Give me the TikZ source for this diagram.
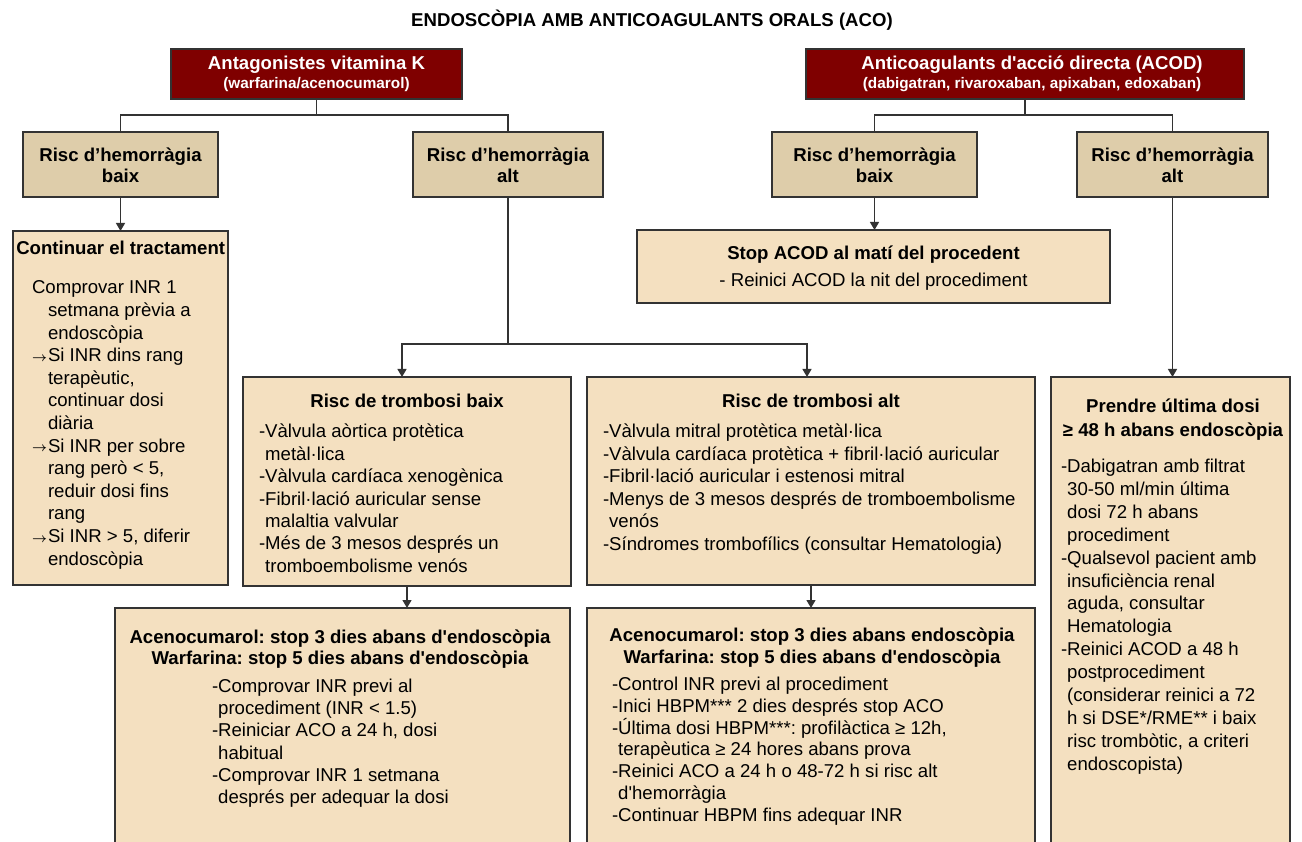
\documentclass[tikz,border=0pt]{standalone}
\usepackage{fontspec}
\setmainfont{Liberation Sans}
\usetikzlibrary{arrows.meta,calc}
\definecolor{dred}{HTML}{7F0000}
\definecolor{hbtan}{HTML}{DECDAA}
\definecolor{lightfill}{HTML}{F4E0C0}
\definecolor{edge}{HTML}{333333}
\frenchspacing
\newcommand\fsx[1]{\fontsize{18.6pt}{#1pt}\selectfont}
\newcommand\sq{\textquotesingle}
\newcommand\arw{\makebox[16pt][l]{\raisebox{0.5pt}{\resizebox{15pt}{!}{\boldmath$\rightarrow$}}}}
\tikzset{
  boxbase/.style={draw=edge, line width=1.4pt, inner sep=0pt, outer sep=0pt, anchor=north west},
  redbox/.style={boxbase, fill=dred},
  tanbox/.style={boxbase, fill=hbtan},
  lightbox/.style={boxbase, fill=lightfill},
  conn/.style={draw=edge, line width=1.3pt},
  arr/.style={conn, -{Triangle[length=8pt,width=9pt]}},
  txt/.style={inner sep=0pt, outer sep=0pt, text=black},
  ctxt/.style={txt, anchor=base},
  ltxt/.style={txt, anchor=base west},
}
\begin{document}
\begin{tikzpicture}[x=1pt,y=-1pt]
\useasboundingbox (0,0) rectangle (1302,842);
\fill[white] (0,0) rectangle (1302,842);
\clip (0,0) rectangle (1302,842);

% title
\node[ctxt] (title) at (652,27) {\fsx{22}\bfseries ENDOSCÒPIA AMB ANTICOAGULANTS ORALS (ACO)};

% boxes
\node[redbox, minimum width=291pt, minimum height=50pt] (vka) at (171,49) {};
\node[redbox, minimum width=438pt, minimum height=50pt] (acod) at (806,49) {};
\node[tanbox, minimum width=195pt, minimum height=65pt] (hb1) at (23,132) {};
\node[tanbox, minimum width=190pt, minimum height=65pt] (ha1) at (413,132) {};
\node[tanbox, minimum width=205pt, minimum height=65pt] (hb2) at (772,132) {};
\node[tanbox, minimum width=191pt, minimum height=65pt] (ha2) at (1077,132) {};
\node[lightbox, minimum width=215pt, minimum height=354pt] (cont) at (13,231) {};
\node[lightbox, minimum width=473pt, minimum height=73pt] (stop) at (637,230) {};
\node[lightbox, minimum width=328pt, minimum height=209pt] (tb) at (243,377) {};
\node[lightbox, minimum width=448pt, minimum height=208pt] (ta) at (587,377) {};
\node[lightbox, minimum width=239pt, minimum height=520pt] (rb) at (1051,377) {};
\node[lightbox, minimum width=455pt, minimum height=260pt] (bl) at (115,608) {};
\node[lightbox, minimum width=448pt, minimum height=260pt] (br) at (587,608) {};

% red box texts
\node[ctxt, text=white] (vkat1) at (316.5,70) {\fsx{22}\bfseries Antagonistes vitamina K};
\node[ctxt, text=white] (vkat2) at (316.5,89) {\fontsize{15.3pt}{18pt}\selectfont\bfseries (warfarina/acenocumarol)};
\node[ctxt, text=white] (acodt1) at (1032,70) {\fsx{22}\bfseries Anticoagulants d\sq acció directa (ACOD)};
\node[ctxt, text=white] (acodt2) at (1032,89) {\fontsize{15.3pt}{18pt}\selectfont\bfseries (dabigatran, rivaroxaban, apixaban, edoxaban)};

% hemorragia boxes
\node[ctxt] (hb1t) at (120.5,162) {\parbox[t]{300pt}{\centering\fsx{21}\bfseries Risc d’hemorràgia\\baix}};
\node[ctxt] (ha1t) at (508,162) {\parbox[t]{300pt}{\centering\fsx{21}\bfseries Risc d’hemorràgia\\alt}};
\node[ctxt] (hb2t) at (874.5,162) {\parbox[t]{300pt}{\centering\fsx{21}\bfseries Risc d’hemorràgia\\baix}};
\node[ctxt] (ha2t) at (1172.5,162) {\parbox[t]{300pt}{\centering\fsx{21}\bfseries Risc d’hemorràgia\\alt}};

% continuar
\node[ctxt] (contt) at (120.7,255) {\fsx{22}\bfseries Continuar el tractament};
\node[ltxt] (contl) at (32,294) {\parbox[t]{300pt}{\fsx{22.6}\raggedright
Comprovar INR 1\\
\hspace*{16pt}setmana prèvia a\\
\hspace*{16pt}endoscòpia\\
\arw Si INR dins rang\\
\hspace*{16pt}terapèutic,\\
\hspace*{16pt}continuar dosi\\
\hspace*{16pt}diària\\
\arw Si INR per sobre\\
\hspace*{16pt}rang però < 5,\\
\hspace*{16pt}reduir dosi fins\\
\hspace*{16pt}rang\\
\arw Si INR > 5, diferir\\
\hspace*{16pt}endoscòpia}};

% stop ACOD
\node[ctxt] (stopt) at (873.5,260) {\fsx{22}\bfseries Stop ACOD al matí del procedent};
\node[ctxt] (stopl) at (873.5,287) {\fsx{22}- Reinici ACOD la nit del procediment};

% trombosi baix
\node[ctxt] (tbt) at (407,407) {\fsx{22}\bfseries Risc de trombosi baix};
\node[ltxt] (tbl) at (259,437.5) {\parbox[t]{400pt}{\fsx{22.5}\raggedright
-Vàlvula aòrtica protètica\\
\phantom{-}metàl·lica\\
-Vàlvula cardíaca xenogènica\\
-Fibril·lació auricular sense\\
\phantom{-}malaltia valvular\\
-Més de 3 mesos després un\\
\phantom{-}tromboembolisme venós}};

% trombosi alt
\node[ctxt] (tat) at (811,407) {\fsx{22}\bfseries Risc de trombosi alt};
\node[ltxt] (tal) at (603,437.5) {\parbox[t]{500pt}{\fsx{22.6}\raggedright
-Vàlvula mitral protètica metàl·lica\\
-Vàlvula cardíaca protètica + fibril·lació auricular\\
-Fibril·lació auricular i estenosi mitral\\
-Menys de 3 mesos després de tromboembolisme\\
\phantom{-}venós\\
-Síndromes trombofílics (consultar Hematologia)}};

% right box
\node[ctxt] (rbt) at (1173,413) {\parbox[t]{300pt}{\centering\fsx{24}\bfseries Prendre última dosi\\≥ 48 h abans endoscòpia}};
\node[ltxt] (rbl) at (1061,472.5) {\parbox[t]{300pt}{\fsx{22.9}\raggedright
-Dabigatran amb filtrat\\
\phantom{-}30-50 ml/min última\\
\phantom{-}dosi 72 h abans\\
\phantom{-}procediment\\
-Qualsevol pacient amb\\
\phantom{-}insuficiència renal\\
\phantom{-}aguda, consultar\\
\phantom{-}Hematologia\\
-Reinici ACOD a 48 h\\
\phantom{-}postprocediment\\
\phantom{-}(considerar reinici a 72\\
\phantom{-}h si DSE*/RME** i baix\\
\phantom{-}risc trombòtic, a criteri\\
\phantom{-}endoscopista)}};

% bottom left
\node[ctxt] (blt) at (340,643) {\parbox[t]{500pt}{\centering\fsx{21.5}\bfseries Acenocumarol: stop 3 dies abans d\sq endoscòpia\\Warfarina: stop 5 dies abans d\sq endoscòpia}};
\node[ltxt] (bll) at (212,692.5) {\parbox[t]{400pt}{\fsx{22.2}\raggedright
-Comprovar INR previ al\\
\phantom{-}procediment (INR < 1.5)\\
-Reiniciar ACO a 24 h, dosi\\
\phantom{-}habitual\\
-Comprovar INR 1 setmana\\
\phantom{-}després per adequar la dosi}};

% bottom right
\node[ctxt] (brt) at (812,641) {\parbox[t]{500pt}{\centering\fsx{22}\bfseries Acenocumarol: stop 3 dies abans endoscòpia\\Warfarina: stop 5 dies abans d\sq endoscòpia}};
\node[ltxt] (brl) at (612,690.5) {\parbox[t]{450pt}{\fsx{21.8}\raggedright
-Control INR previ al procediment\\
-Inici HBPM*** 2 dies després stop ACO\\
-Última dosi HBPM***: profilàctica ≥ 12h,\\
\phantom{-}terapèutica ≥ 24 hores abans prova\\
-Reinici ACO a 24 h o 48-72 h si risc alt\\
\phantom{-}d\sq hemorràgia\\
-Continuar HBPM fins adequar INR}};

% connectors
\coordinate (j1) at (316.5,115);
\coordinate (j2) at (1025,115);
\coordinate (j3) at (508,344);
\coordinate (tbin) at (402,377);
\coordinate (tain) at (807,377);
\draw[conn] (vka.south) -- (j1);
\draw[conn] (hb1.north) |- (j1) -| (ha1.north);
\draw[conn] (acod.south) -- (j2);
\draw[conn] (hb2.north) |- (j2) -| (ha2.north);
\draw[arr] (hb1.south) -- (hb1.south |- cont.north);
\draw[arr] (hb2.south) -- (hb2.south |- stop.north);
\draw[arr] (ha2.south) -- (ha2.south |- rb.north);
\draw[conn] (ha1.south) -- (j3);
\draw[arr] (j3) -| (tbin);
\draw[arr] (j3) -| (tain);
\draw[arr] (tb.south) -- (tb.south |- bl.north);
\draw[arr] (ta.south) -- (ta.south |- br.north);
\end{tikzpicture}
\end{document}
